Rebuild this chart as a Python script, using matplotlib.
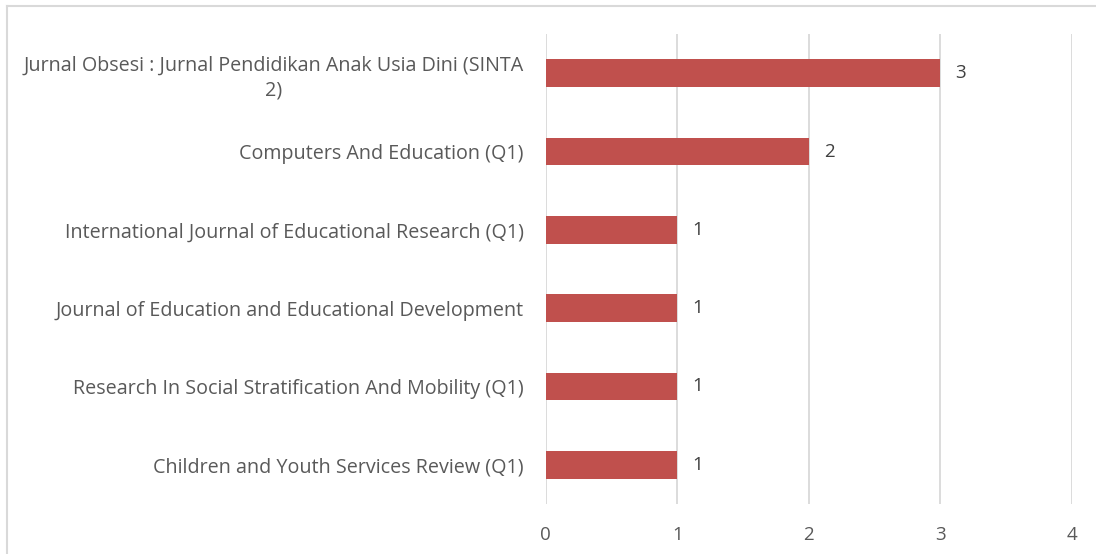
"""Horizontal bar chart of journal article counts."""

import matplotlib.pyplot as plt
from matplotlib.lines import Line2D

journals = [
    'Jurnal Obsesi : Jurnal Pendidikan Anak Usia Dini (SINTA\n2)',
    'Computers And Education (Q1)',
    'International Journal of Educational Research (Q1)',
    'Journal of Education and Educational Development',
    'Research In Social Stratification And Mobility (Q1)',
    'Children and Youth Services Review (Q1)',
]
counts = [3, 2, 1, 1, 1, 1]
xticks = [0, 1, 2, 3, 4]

TEXT = '#595959'
plt.rcParams['font.family'] = ['Open Sans', 'DejaVu Sans']

fig = plt.figure(figsize=(10.96, 5.54), dpi=100)
ax = fig.add_axes([0.498, 0.0903, 0.480, 0.8483])

pos = list(range(len(journals)))[::-1]
bars = ax.barh(pos, counts, height=0.35, color='#C0504D', zorder=3)
for bar, val in zip(bars, counts):
    ax.text(bar.get_width() + 0.115, bar.get_y() + bar.get_height() / 2,
            str(val), va='center', ha='left', fontsize=13.5, color='#404040')

ax.set_xlim(0, 4)
ax.set_ylim(-0.5, len(journals) - 0.5)
ax.set_xticks(xticks)
ax.set_yticks(pos)
ax.set_yticklabels(journals, fontsize=14.2, color=TEXT, ha='right',
                   multialignment='center', linespacing=1.35)
ax.tick_params(axis='y', length=0, pad=16)
ax.tick_params(axis='x', length=0, pad=16, labelsize=13.5, labelcolor=TEXT)
ax.grid(axis='x', color='#D9D9D9', linewidth=1.3, zorder=0)
for side in ax.spines.values():
    side.set_visible(False)

# frame: only top and left edges show in the original
fig.add_artist(Line2D([0.0065, 0.0065], [0.0, 0.989], color='#D9D9D9', linewidth=1.5))
fig.add_artist(Line2D([0.0065, 1.0], [0.989, 0.989], color='#D9D9D9', linewidth=1.5))

plt.savefig('out.png', dpi=100)
plt.close()
